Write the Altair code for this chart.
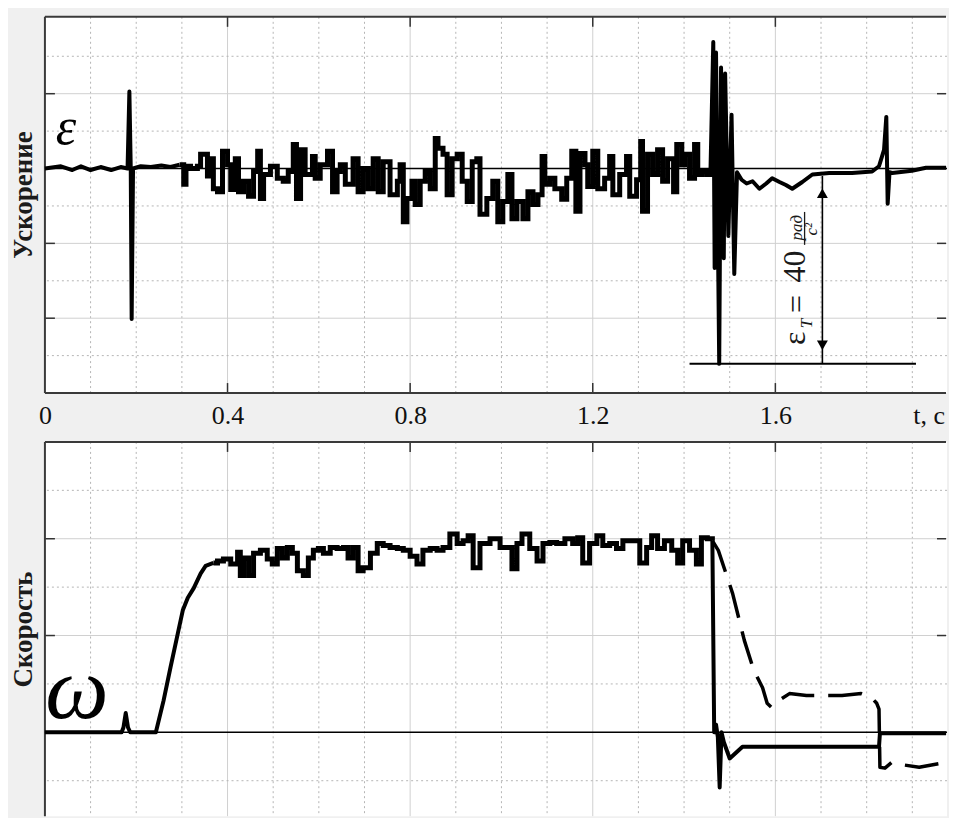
import altair as alt
import pandas as pd

# ---------------- data ----------------
# Top panel: acceleration (epsilon), arbitrary units (1 unit = one major grid step)
eps_a_t = [0, 0.035, 0.06, 0.079, 0.10, 0.122, 0.145, 0.166, 0.181, 0.185, 0.188, 0.190,
           0.193, 0.21, 0.232, 0.255, 0.275, 0.295]
eps_a_v = [0.0, 0.03, -0.02, 0.03, -0.02, 0.02, -0.02, 0.02, 0.0, 1.03, 0.0, -2.01,
           0.0, 0.03, 0.02, 0.04, 0.02, 0.05]

eps_n_t = [0.295, 0.304, 0.309, 0.319, 0.334, 0.341, 0.356, 0.363, 0.369, 0.378,
           0.389, 0.400, 0.407, 0.417, 0.424, 0.435, 0.446, 0.457, 0.466, 0.472,
           0.479, 0.494, 0.509, 0.522, 0.533, 0.544, 0.551, 0.560, 0.570, 0.586,
           0.592, 0.603, 0.619, 0.630, 0.640, 0.647, 0.658, 0.675, 0.686, 0.697,
           0.708, 0.719, 0.730, 0.741, 0.756, 0.772, 0.778, 0.785, 0.793, 0.804,
           0.811, 0.822, 0.833, 0.844, 0.855, 0.861, 0.872, 0.881, 0.892, 0.903,
           0.914, 0.925, 0.936, 0.946, 0.953, 0.968, 0.981, 0.992, 1.003, 1.014,
           1.023, 1.034, 1.047, 1.058, 1.069, 1.080, 1.089, 1.095, 1.106, 1.117,
           1.132, 1.143, 1.154, 1.163, 1.172, 1.183, 1.189, 1.200, 1.211, 1.226,
           1.237, 1.244, 1.259, 1.274, 1.281, 1.296, 1.305, 1.309, 1.320, 1.331,
           1.342, 1.353, 1.364, 1.377, 1.384, 1.395, 1.401, 1.412, 1.423, 1.430,
           1.440, 1.451, 1.458]
eps_n_v = [0.05, -0.21, 0.03, 0.0, 0.03, 0.19, -0.10, 0.13, -0.27, -0.31,
           0.23, 0.05, -0.28, 0.13, -0.31, -0.17, -0.37, -0.04, 0.23, -0.40,
           -0.08, 0.03, -0.13, -0.17, -0.04, 0.32, -0.40, 0.25, -0.08, 0.16,
           -0.13, 0.05, 0.23, -0.31, -0.04, 0.05, -0.21, 0.13, -0.31, 0.0,
           -0.27, 0.13, -0.31, 0.09, -0.35, -0.17, 0.05, -0.71, -0.40, -0.17,
           -0.48, -0.17, -0.04, -0.27, 0.40, 0.27, 0.19, -0.35, 0.13, 0.19,
           -0.17, -0.44, 0.09, 0.13, -0.61, -0.40, -0.17, -0.71, -0.44, -0.08,
           -0.67, -0.44, -0.67, -0.31, -0.48, -0.35, 0.16, -0.21, -0.13, -0.27,
           -0.41, -0.13, 0.23, -0.57, 0.20, 0.05, -0.24, 0.23, -0.27, -0.13,
           0.16, -0.35, -0.08, 0.16, -0.37, -0.15, 0.36, -0.57, 0.19, -0.08,
           0.25, -0.17, 0.13, -0.31, 0.32, 0.05, 0.19, -0.13, 0.32, -0.08,
           -0.04, -0.08, 0.0]

eps_b_t = [1.458, 1.464, 1.467, 1.470, 1.477, 1.481, 1.487, 1.490, 1.497, 1.504,
           1.510, 1.516, 1.526, 1.537, 1.550, 1.565, 1.580, 1.593, 1.609, 1.623,
           1.637, 1.659, 1.681, 1.718, 1.768, 1.812, 1.827, 1.838, 1.843, 1.846,
           1.850, 1.856, 1.899, 1.930, 1.974]
eps_b_v = [0.0, 1.69, -1.33, 1.55, -2.61, 1.35, -1.2, 1.27, -0.9, 0.72,
           -1.41, -0.05, -0.15, -0.20, -0.17, -0.27, -0.20, -0.13, -0.18, -0.22,
           -0.27, -0.18, -0.08, -0.06, -0.06, -0.04, 0.03, 0.25, 0.69, -0.47,
           -0.05, -0.06, -0.03, 0.01, 0.01]

# Bottom panel: speed (omega)
om_a_t = [0, 0.10, 0.168, 0.172, 0.177, 0.182, 0.187, 0.243, 0.260, 0.275,
          0.291, 0.302, 0.313, 0.326, 0.341, 0.352, 0.369]
om_a_v = [0.0, 0.0, 0.0, 0.05, 0.2, 0.05, 0.0, 0.0, 0.33, 0.67,
          1.02, 1.26, 1.39, 1.49, 1.64, 1.72, 1.75]

om_n_t = [0.369, 0.378, 0.391, 0.407, 0.422, 0.428, 0.435, 0.446, 0.457, 0.472,
          0.487, 0.498, 0.509, 0.520, 0.531, 0.542, 0.553, 0.566, 0.577, 0.588,
          0.599, 0.610, 0.625, 0.640, 0.654, 0.664, 0.675, 0.686, 0.697, 0.713,
          0.728, 0.741, 0.756, 0.772, 0.785, 0.800, 0.815, 0.828, 0.844, 0.859,
          0.872, 0.887, 0.903, 0.916, 0.927, 0.938, 0.953, 0.975, 0.997, 1.023,
          1.034, 1.045, 1.062, 1.078, 1.091, 1.106, 1.121, 1.139, 1.156, 1.167,
          1.178, 1.193, 1.209, 1.222, 1.237, 1.252, 1.266, 1.285, 1.303, 1.318,
          1.329, 1.342, 1.357, 1.373, 1.386, 1.397, 1.412, 1.427, 1.438, 1.451,
          1.462]
om_n_v = [1.75, 1.77, 1.79, 1.74, 1.86, 1.62, 1.80, 1.62, 1.85, 1.88,
          1.79, 1.74, 1.90, 1.80, 1.91, 1.85, 1.67, 1.62, 1.80, 1.88,
          1.90, 1.85, 1.91, 1.90, 1.91, 1.80, 1.91, 1.67, 1.70, 1.85,
          1.95, 1.93, 1.91, 1.90, 1.88, 1.82, 1.74, 1.88, 1.90, 1.88,
          1.91, 2.05, 1.95, 1.98, 2.03, 1.70, 1.95, 2.00, 1.91, 1.69,
          1.95, 2.05, 1.90, 1.77, 1.95, 1.96, 1.95, 2.00, 1.95, 2.01,
          1.75, 1.95, 2.03, 1.93, 1.95, 1.90, 1.98, 1.98, 1.75, 1.91,
          2.03, 1.90, 1.98, 1.88, 1.75, 1.98, 1.88, 1.74, 2.01, 2.00,
          1.98]

om_b_t = [1.462, 1.466, 1.470, 1.474, 1.478, 1.482, 1.487, 1.500, 1.528, 1.827,
          1.829, 1.840, 1.974]
om_b_v = [1.98, 0.0, 0.08, -0.05, -0.57, 0.0, -0.10, -0.27, -0.15, -0.15,
          -0.01, -0.01, -0.01]

om_d_t = [1.462, 1.475, 1.506, 1.532, 1.552, 1.572, 1.582, 1.591, 1.605, 1.631,
          1.668, 1.746, 1.788, 1.810, 1.822, 1.827, 1.829, 1.840, 1.855, 1.871,
          1.915, 1.974]
om_d_v = [1.98, 1.88, 1.44, 0.95, 0.65, 0.46, 0.30, 0.26, 0.32, 0.40,
          0.38, 0.38, 0.40, 0.36, 0.30, 0.24, -0.36, -0.37, -0.31, -0.33,
          -0.36, -0.31]

# axis ticks / grid positions
x_labels = [0, 0.4, 0.8, 1.2, 1.6]
x_major = [0.4, 0.8, 1.2, 1.6]
x_minor = [0.1, 0.2, 0.3, 0.5, 0.6, 0.7, 0.9, 1.0, 1.1, 1.3, 1.4, 1.5, 1.7, 1.8, 1.9]
top_y_major = [-2, -1, 1]
top_y_minor = [-2.5, -1.5, -0.5, 0.5, 1.5]
bot_y_major = [1, 2]
bot_y_minor = [-0.5, 0.5, 1.5, 2.5]

# annotation (eps_T = 40 rad/s^2)
ann_arrow_t = 1.703
ann_arrow_v = [-0.10, -2.61]
ann_base_t = [1.412, 1.908]
ann_base_v = -2.61
ann_head_v = [-0.33, -2.36]
x_title = "t, c"
x_title_t = 1.902

# ---------------- layout constants ----------------
PX_PER_T = 457.5
W = 904
H_TOP = 377
H_BOT = 375
X_DOMAIN = [0, W / PX_PER_T]
TOP_DOMAIN = [-3.0, 2.027]
BOT_DOMAIN = [-(H_BOT - 291) / 97.0, 3.0]
SERIF = "Liberation Serif"
INK = "#111111"
SPINE = "#3a3a3a"

xscale = alt.Scale(domain=X_DOMAIN, nice=False, zero=False)

top_xaxis = alt.Axis(values=x_labels, format="~g", labels=True, ticks=False, domain=False,
                     grid=False, labelFlush=False, labelFont=SERIF, labelFontSize=26,
                     labelColor=INK, labelPadding=10, title=None)
bot_xaxis = alt.Axis(labels=False, ticks=False, domain=False, grid=False, title=None)


def yaxis(title, ty=None):
    kw = dict(title=title, labels=False, ticks=False, domain=False, grid=False,
              titleFont=SERIF, titleFontSize=27, titleFontWeight="bold",
              titleColor="#1b1b1b", titlePadding=7)
    if ty is not None:
        kw["titleY"] = ty
    return alt.Axis(**kw)


def panel(dom, h, xaxis, yax, y_major, y_minor, solid_parts, step_parts, extra, bottom_edge):
    ysc = alt.Scale(domain=dom, nice=False, zero=False)
    X = alt.X("t:Q", scale=xscale, axis=xaxis)
    Y = alt.Y("v:Q", scale=ysc, axis=yax)
    layers = []
    layers.append(alt.Chart(pd.DataFrame({"t": x_minor})).mark_rule(
        color="#b5b5b5", strokeWidth=1, strokeDash=[2, 3]).encode(x=X))
    layers.append(alt.Chart(pd.DataFrame({"t": x_major})).mark_rule(
        color="#d0d0d0", strokeWidth=1).encode(x=X))
    layers.append(alt.Chart(pd.DataFrame({"v": y_minor})).mark_rule(
        color="#b5b5b5", strokeWidth=1, strokeDash=[2, 3]).encode(y=Y))
    layers.append(alt.Chart(pd.DataFrame({"v": y_major})).mark_rule(
        color="#d0d0d0", strokeWidth=1).encode(y=Y))
    # inward tick marks
    layers.append(alt.Chart(pd.DataFrame({"t": x_major})).mark_rule(
        color="#333333", strokeWidth=1.5).encode(x=X, y=alt.value(0), y2=alt.value(10)))
    if bottom_edge:
        layers.append(alt.Chart(pd.DataFrame({"t": x_major})).mark_rule(
            color="#333333", strokeWidth=1.5).encode(x=X, y=alt.value(h - 10), y2=alt.value(h)))
    layers.append(alt.Chart(pd.DataFrame({"v": y_major})).mark_rule(
        color="#333333", strokeWidth=1.5).encode(y=Y, x=alt.value(0), x2=alt.value(10)))
    layers.append(alt.Chart(pd.DataFrame({"v": y_major})).mark_rule(
        color="#333333", strokeWidth=1.5).encode(y=Y, x=alt.value(W - 10), x2=alt.value(W - 1)))
    # frame: left, top (and bottom for the upper panel)
    layers.append(alt.Chart(pd.DataFrame({"v": [0]})).mark_rule(
        color=SPINE, strokeWidth=2).encode(x=alt.value(0), y=alt.value(0), y2=alt.value(h)))
    layers.append(alt.Chart(pd.DataFrame({"v": [0]})).mark_rule(
        color=SPINE, strokeWidth=2).encode(x=alt.value(0), x2=alt.value(W - 1), y=alt.value(0)))
    if bottom_edge:
        layers.append(alt.Chart(pd.DataFrame({"v": [0]})).mark_rule(
            color=SPINE, strokeWidth=2).encode(x=alt.value(0), x2=alt.value(W - 1), y=alt.value(h)))
    # zero line
    layers.append(alt.Chart(pd.DataFrame({"v": [0]})).mark_rule(
        color="black", strokeWidth=1.6).encode(y=Y))
    for (tt, vv, dash) in solid_parts:
        kw = dict(color="black", strokeWidth=4, strokeJoin="round")
        if dash:
            kw["strokeDash"] = dash
            kw["strokeWidth"] = 3.5
        layers.append(alt.Chart(pd.DataFrame({"t": tt, "v": vv})).mark_line(**kw)
                      .encode(x=X, y=Y, order="t:Q"))
    for (tt, vv) in step_parts:
        layers.append(alt.Chart(pd.DataFrame({"t": tt, "v": vv})).mark_line(
            color="black", strokeWidth=5, interpolate="step-after")
            .encode(x=X, y=Y, order="t:Q"))
    layers += extra(X, Y, h)
    return alt.layer(*layers).properties(width=W, height=h)


def top_extra(X, Y, h):
    out = []
    out.append(alt.Chart(pd.DataFrame({"t": [0.046], "v": [0.33], "s": ["ε"]})).mark_text(
        font=SERIF, fontSize=52, fontStyle="italic", color="black", align="center",
        baseline="alphabetic").encode(x=X, y=Y, text="s:N"))
    out.append(alt.Chart(pd.DataFrame({"t": [x_title_t], "s": [x_title]})).mark_text(
        font=SERIF, fontSize=26, color=INK, align="left", baseline="top")
        .encode(x=X, y=alt.value(h + 10), text="s:N"))
    out.append(alt.Chart(pd.DataFrame({"t": [ann_arrow_t], "v": [ann_arrow_v[0]],
                                       "v2": [ann_arrow_v[1]]})).mark_rule(
        color="black", strokeWidth=1.6).encode(x=X, y=Y, y2="v2:Q"))
    out.append(alt.Chart(pd.DataFrame({"t": [ann_base_t[0]], "t2": [ann_base_t[1]],
                                       "v": [ann_base_v]})).mark_rule(
        color="black", strokeWidth=2).encode(x=X, x2="t2:Q", y=Y))
    out.append(alt.Chart(pd.DataFrame({"t": [ann_arrow_t], "v": [ann_head_v[0]]})).mark_point(
        shape="triangle-up", filled=True, size=120, color="black", opacity=1).encode(x=X, y=Y))
    out.append(alt.Chart(pd.DataFrame({"t": [ann_arrow_t], "v": [ann_head_v[1]]})).mark_point(
        shape="triangle-down", filled=True, size=120, color="black", opacity=1).encode(x=X, y=Y))
    big = pd.DataFrame({"t": [1.644, 1.648, 1.644], "v": [-2.27, -1.81, -1.31],
                        "s": ["ε", "=", "40"]})
    out.append(alt.Chart(big).mark_text(font=SERIF, fontSize=32, angle=270, color="#1a1a1a",
                                        align="center", baseline="middle")
               .encode(x=X, y=Y, text="s:N"))
    small = pd.DataFrame({"t": [1.670, 1.648, 1.680], "v": [-2.07, -0.79, -0.81],
                          "s": ["T", "рад", "с²"]})
    out.append(alt.Chart(small).mark_text(font=SERIF, fontSize=17, fontStyle="italic",
                                          angle=270, color="#1a1a1a", align="center",
                                          baseline="middle")
               .encode(x=X, y=Y, text="s:N"))
    out.append(alt.Chart(pd.DataFrame({"t": [1.664], "v": [-0.58], "v2": [-1.02]})).mark_rule(
        color="#1a1a1a", strokeWidth=1.3).encode(x=X, y=Y, y2="v2:Q"))
    return out


def bot_extra(X, Y, h):
    return [alt.Chart(pd.DataFrame({"t": [0.070], "v": [0.144], "s": ["ω"]})).mark_text(
        font=SERIF, fontSize=90, fontStyle="italic", color="black", align="center",
        baseline="alphabetic").encode(x=X, y=Y, text="s:N")]


top = panel(TOP_DOMAIN, H_TOP, top_xaxis, yaxis("Ускорение", 178), top_y_major, top_y_minor,
            [(eps_a_t, eps_a_v, None), (eps_b_t, eps_b_v, None)],
            [(eps_n_t, eps_n_v)], top_extra, True)

bot = panel(BOT_DOMAIN, H_BOT, bot_xaxis, yaxis("Скорость"), bot_y_major, bot_y_minor,
            [(om_a_t, om_a_v, None), (om_b_t, om_b_v, None), (om_d_t, om_d_v, [34, 14])],
            [(om_n_t, om_n_v)], bot_extra, False)

chart = alt.vconcat(top, bot, spacing=49, bounds="flush").properties(
    padding={"left": 2, "top": 7, "right": 0, "bottom": 0}
).configure(background="#f0f0f0").configure_view(
    fill="white", stroke=None
)

chart.save("out.html", embed_options={"renderer": "svg", "actions": False})
